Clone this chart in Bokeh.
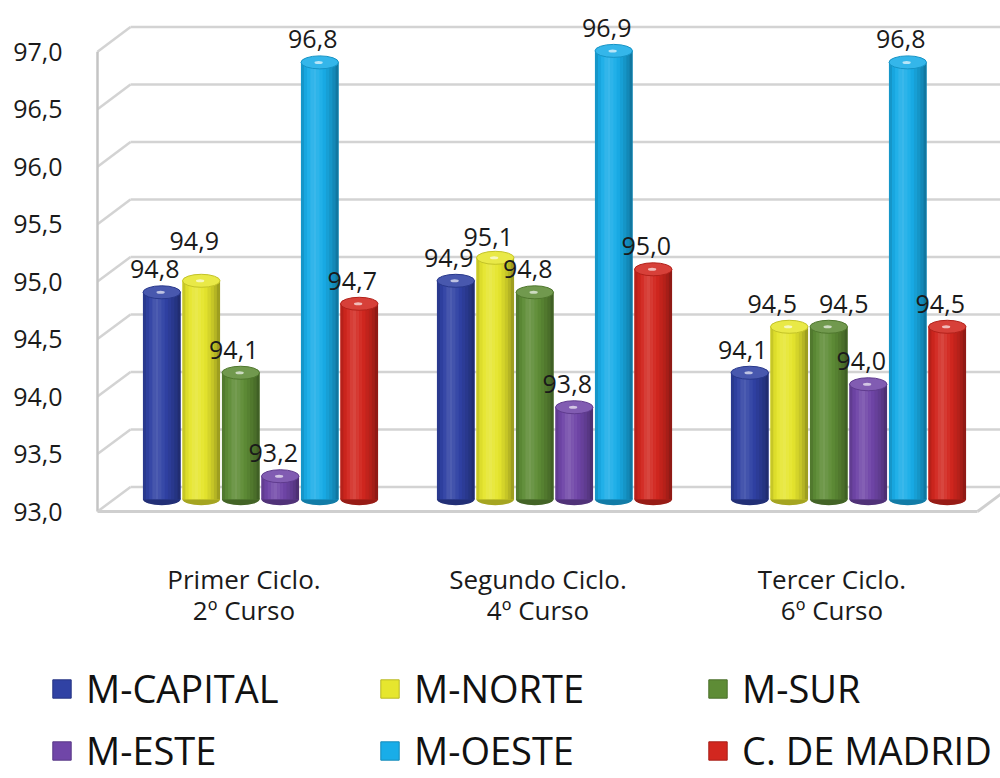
import numpy as np
from bokeh.plotting import figure
from bokeh.models import (ColumnDataSource, Range1d, FixedTicker, Legend, LegendItem, LinearAxis)
from bokeh.core.properties import value
from bokeh.embed import file_html
from bokeh.resources import INLINE

# ---------------- data ----------------
categories = ["Primer Ciclo.\n2º Curso", "Segundo Ciclo.\n4º Curso", "Tercer Ciclo.\n6º Curso"]
series_names = ["M-CAPITAL", "M-NORTE", "M-SUR", "M-ESTE", "M-OESTE", "C. DE MADRID"]
m_capital = [94.8, 94.9, 94.1]
m_norte = [94.9, 95.1, 94.5]
m_sur = [94.1, 94.8, 94.5]
m_este = [93.2, 93.8, 94.0]
m_oeste = [96.8, 96.9, 96.8]
c_madrid = [94.7, 95.0, 94.5]
y_ticks = [93.0, 93.5, 94.0, 94.5, 95.0, 95.5, 96.0, 96.5, 97.0]
y_tick_labels = ["93,0", "93,5", "94,0", "94,5", "95,0", "95,5", "96,0", "96,5", "97,0"]

series_values = [m_capital, m_norte, m_sur, m_este, m_oeste, c_madrid]
base_colors = ["#3042A4", "#E6E62E", "#5E8C36", "#7046A8", "#19ADE8", "#D2271F"]

# ---------------- geometry / style ----------------
PX_X = 294.0      # px per x data unit
PX_Y = 116.75     # px per y data unit
DX = 33.0 / PX_X  # 3-D depth offset (x)
DY = 25.0 / PX_Y  # 3-D depth offset (y)
PITCH = 39.5 / PX_X
BW = 37.5 / PX_X
WALL_X = (97 - 243.5) / PX_X
FLOOR_END = (977 - 243.5) / PX_X
FONT = "Open Sans"

W = 1000
MAIN_H = 630
LEG_H = 778 - MAIN_H
frame_left = 95
frame_w = W - frame_left
frame_h = 521
x0 = (frame_left - 243.5) / PX_X
y0 = 93.0 - 2.0 / PX_Y

p = figure(width=W, height=MAIN_H, output_backend="svg", toolbar_location=None,
           x_range=Range1d(x0, x0 + frame_w / PX_X),
           y_range=Range1d(y0, y0 + frame_h / PX_Y),
           min_border_left=frame_left, min_border_right=0, min_border_top=0,
           min_border_bottom=MAIN_H - frame_h)
p.outline_line_color = None
p.background_fill_color = "white"
p.border_fill_color = "white"
p.xgrid.visible = False
p.ygrid.visible = False

# y axis
p.yaxis.ticker = FixedTicker(ticks=y_ticks)
p.yaxis.major_label_overrides = {t: l for t, l in zip(y_ticks, y_tick_labels)}
p.yaxis.axis_line_color = None
p.yaxis.major_tick_line_color = None
p.yaxis.minor_tick_line_color = None
p.yaxis.major_label_standoff = 27
p.yaxis.major_label_text_font = FONT
p.yaxis.major_label_text_font_size = "25px"
p.yaxis.major_label_text_color = "#1a1a1a"

# category labels: two stacked axes (one per text line)
cat_lines = [c.split("\n") for c in categories]
ax_top = p.xaxis[0]
ax_bot = LinearAxis()
p.add_layout(ax_bot, "below")
for k, ax in enumerate([ax_top, ax_bot]):
    ax.ticker = FixedTicker(ticks=list(range(len(categories))))
    ax.major_label_overrides = {i: c[k] for i, c in enumerate(cat_lines)}
    ax.axis_line_color = None
    ax.major_tick_line_color = None
    ax.minor_tick_line_color = None
    ax.major_label_text_font = FONT
    ax.major_label_text_font_size = "26px"
    ax.major_label_text_color = "#1a1a1a"
ax_top.major_label_standoff = 41
ax_bot.major_label_standoff = -14

# ---------------- 3-D walls ----------------
GRID_C = "#D3D3D3"
xr_end = x0 + frame_w / PX_X + 0.1
p.segment(x0=[WALL_X + DX] * len(y_ticks), y0=[t + DY for t in y_ticks],
          x1=[xr_end] * len(y_ticks), y1=[t + DY for t in y_ticks],
          line_color=GRID_C, line_width=2.5)
p.segment(x0=[WALL_X] * len(y_ticks), y0=y_ticks,
          x1=[WALL_X + DX] * len(y_ticks), y1=[t + DY for t in y_ticks],
          line_color=GRID_C, line_width=2.5)
p.segment(x0=[WALL_X], y0=[y_ticks[0]], x1=[WALL_X], y1=[y_ticks[-1]],
          line_color="#C4C4C4", line_width=2.5)
p.segment(x0=[WALL_X, FLOOR_END], y0=[y_ticks[0], y_ticks[0]],
          x1=[FLOOR_END, FLOOR_END + DX], y1=[y_ticks[0], y_ticks[0] + DY],
          line_color="#CFCFCF", line_width=3)


def shade(hexc, f):
    c = np.array([int(hexc[i:i + 2], 16) for i in (1, 3, 5)], dtype=float)
    if f >= 1:
        c = c + (255 - c) * (f - 1)
    else:
        c = c * f
    c = np.clip(c, 0, 255).astype(int)
    return "#%02x%02x%02x" % tuple(c)


N_STRIPS = 12
profile_t = (np.arange(N_STRIPS) + 0.5) / N_STRIPS
profile = np.interp(profile_t, [0.0, 0.12, 0.35, 0.6, 0.85, 1.0],
                    [0.82, 0.96, 1.16, 1.0, 0.82, 0.64])

base_y = y_ticks[0] + DY / 2
for i, (name, vals, col) in enumerate(zip(series_names, series_values, base_colors)):
    xc = [g + DX / 2 + (i - 2.5) * PITCH for g in range(len(vals))]
    tops = [v + DY / 2 for v in vals]
    p.ellipse(x=xc, y=[base_y] * len(vals), width=BW, height=12, height_units="screen",
              fill_color=shade(col, 0.72), line_color=None)
    p.vbar(x=xc, bottom=base_y, top=tops, width=BW, fill_color=col, line_color=None)
    sx, stop, scol = [], [], []
    for g in range(len(vals)):
        for k in range(N_STRIPS):
            sx.append(xc[g] - BW / 2 + (k + 0.5) * BW / N_STRIPS)
            stop.append(tops[g])
            scol.append(shade(col, profile[k]))
    p.vbar(x=sx, bottom=base_y, top=stop, width=BW / N_STRIPS * 1.05,
           fill_color=scol, line_color=None)
    p.ellipse(x=xc, y=tops, width=BW, height=13, height_units="screen",
              fill_color=shade(col, 1.12), line_color=shade(col, 0.85), line_width=1)
    p.ellipse(x=[x - BW * 0.03 for x in xc], y=tops, width=BW * 0.22, height=3,
              height_units="screen", fill_color="white", fill_alpha=0.65, line_color=None)

# ---------------- value labels ----------------
nudge = {(0, 1): (0, -17), (1, 1): (0, 2), (2, 1): (-10, 0), (2, 2): (22, 0)}
lx, ly, lt, lox, loy = [], [], [], [], []
for i, vals in enumerate(series_values):
    for g, v in enumerate(vals):
        lx.append(g + DX / 2 + (i - 2.5) * PITCH)
        ly.append(v + DY / 2)
        lt.append(f"{v:.1f}".replace(".", ","))
        ndx, ndy = nudge.get((g, i), (0, 0))
        lox.append(-7 + ndx)
        loy.append(-23 + ndy)
lsrc = ColumnDataSource(dict(x=lx, y=ly, t=lt, ox=lox, oy=loy))
p.text(x="x", y="y", text="t", x_offset="ox", y_offset="oy", source=lsrc,
       text_font=value(FONT), text_font_size="25px", text_color="#1a1a1a",
       text_align="center", text_baseline="middle")

# ---------------- legend (own strip below the chart) ----------------
p2 = figure(width=W, height=LEG_H, output_backend="svg", toolbar_location=None,
            x_range=Range1d(0, 1), y_range=Range1d(0, 1),
            x_axis_location=None, y_axis_location=None,
            min_border_left=0, min_border_right=0, min_border_top=0, min_border_bottom=0)
p2.grid.visible = False
p2.outline_line_color = None
p2.background_fill_color = "white"
p2.border_fill_color = "white"
items = []
for name, col in zip(series_names, base_colors):
    # legend proxy glyph (its single point lies outside the visible range)
    r = p2.vbar(x=[-5], bottom=[-5], top=[-4], width=1, fill_color=col,
                line_color=shade(col, 0.8))
    items.append(LegendItem(label=name, renderers=[r]))
ROW_H = 62
legend_bottom_from_top = (750 + ROW_H / 2) - MAIN_H
legend = Legend(items=items, orientation="horizontal", ncols=3,
                location=(50, LEG_H - legend_bottom_from_top),
                padding=0, margin=0,
                glyph_width=23, glyph_height=23, label_standoff=13,
                label_width=292, label_height=ROW_H, spacing=0,
                label_text_font=FONT, label_text_font_size="38px",
                label_text_color="#111111",
                border_line_color=None, background_fill_alpha=0)
p2.add_layout(legend)

# two independent roots stacked on the page (no frame alignment between them)
open("out.html", "w").write(file_html([p, p2], INLINE))
